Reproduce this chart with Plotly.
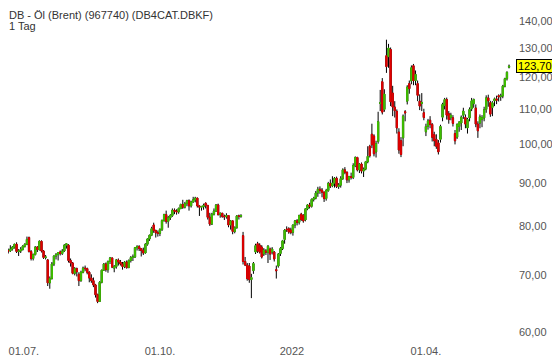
import math
import pandas as pd
import plotly.graph_objects as go

# ---- data (daily candles, 17.06.2021 - 31.05.2022, Frankfurt trading days) ----
holidays = ["2021-12-24", "2021-12-31", "2022-04-15", "2022-04-18"]

opens = [
    74.4, 73.1, 73.6, 74.9, 74.8, 75.2, 75.6, 76.2, 74.7, 74.8,  # Jun
    75.1, 75.8, 76.2, 77.6, 74.7, 73.3, 74.1, 75.6, 75.1, 76.8, 74.8, 73.5, 73.0, 68.6, 69.4, 72.2, 73.8, 74.1, 74.6, 74.3, 74.8, 76.0,  # Jul
    76.0, 72.9, 72.4, 70.4, 71.3, 70.2, 69.0, 70.6, 71.4, 71.3, 70.6, 69.5, 69.0, 68.2, 66.4, 65.2, 68.7, 71.0, 72.2, 71.1, 72.7, 73.4,  # Aug
    71.4, 71.7, 73.0, 72.6, 72.2, 71.7, 72.6, 71.5, 72.9, 73.5, 73.6, 75.5, 75.7, 75.3, 74.9, 74.4, 76.2, 77.3, 78.1, 80.3, 79.1, 78.6,  # Sep
    78.5, 79.3, 81.3, 82.6, 81.1, 81.9, 82.4, 83.6, 83.4, 83.2, 84.0, 84.9, 84.3, 85.1, 85.8, 84.6, 85.5, 86.0, 86.4, 84.6, 84.3,  # Oct
    84.4, 85.2, 84.7, 82.0, 80.5, 82.7, 83.4, 84.8, 82.6, 82.9, 82.2, 82.1, 82.4, 80.3, 81.2, 78.9, 79.7, 82.3, 82.2, 78.0, 72.7, 72.0,  # Nov
    71.8, 69.2, 70.9, 74.6, 76.3, 76.0, 75.6, 74.2, 74.8, 74.5, 75.2, 74.6, 74.6, 71.1, 71.8, 74.3, 75.3, 77.2, 79.4, 79.5, 79.2,  # Dec
    78.7, 80.3, 81.2, 80.9, 82.7, 82.4, 81.4, 83.9, 84.8, 84.5, 86.1, 86.4, 87.6, 88.5, 88.3, 87.8, 86.3, 88.2, 89.9, 89.3, 90.0,  # Jan
    91.2, 89.2, 89.5, 91.1, 93.3, 92.7, 90.8, 91.6, 91.4, 94.4, 96.5, 93.3, 94.8, 93.0, 93.5, 95.4, 99.5, 102.8, 102.3, 98.0,  # Feb
    100.8, 111.8, 118.6, 110.0, 127.3, 127.0, 129.5, 115.0, 110.7, 109.4, 103.4, 101.0, 101.8, 109.3, 112.5, 118.0, 118.9, 123.9, 119.0, 118.0, 112.5, 111.8, 109.0,  # Mar
    103.5, 105.0, 106.8, 105.6, 102.7, 101.4, 100.4, 101.4, 107.7, 111.2, 113.0, 108.7, 107.6, 107.5, 103.0, 102.0, 105.0, 106.0, 108.3,  # Apr
    107.6, 104.6, 107.5, 110.2, 111.8, 110.4, 105.7, 106.0, 107.0, 107.5, 110.0, 113.5, 112.0, 110.6, 112.6, 113.2, 114.2, 113.9, 114.1, 117.2, 119.6, 123.4,  # May
]
highs = [
    74.6, 73.9, 75.0, 75.3, 76.0, 75.8, 76.3, 76.6, 75.2, 75.6,
    76.0, 76.4, 77.8, 77.8, 75.0, 74.3, 75.8, 75.8, 77.0, 77.0, 75.0, 74.0, 73.2, 69.8, 72.6, 73.9, 74.4, 74.6, 74.9, 75.2, 76.2, 76.4,
    76.2, 73.3, 72.6, 71.6, 71.5, 70.6, 70.9, 71.7, 71.9, 71.5, 70.8, 70.2, 69.6, 68.4, 66.6, 68.9, 71.1, 72.4, 72.5, 72.9, 73.6, 73.5,
    72.0, 73.2, 73.3, 73.0, 72.6, 72.8, 72.9, 73.1, 73.8, 74.1, 75.6, 76.0, 76.0, 75.4, 75.5, 76.4, 77.4, 78.2, 79.9, 80.8, 79.3, 79.1,
    79.6, 81.5, 82.8, 83.5, 82.3, 82.7, 84.0, 84.0, 83.8, 84.2, 85.1, 86.0, 85.5, 86.0, 86.1, 85.8, 86.7, 86.7, 86.5, 84.8, 84.6,
    85.1, 85.4, 84.8, 83.0, 83.0, 84.0, 85.0, 85.1, 83.1, 83.0, 82.6, 82.9, 82.5, 81.4, 81.3, 80.0, 82.5, 82.6, 82.7, 78.8, 73.6, 72.4,
    72.4, 70.3, 72.6, 76.3, 76.7, 76.4, 76.0, 75.4, 75.2, 76.0, 75.5, 75.6, 74.8, 71.9, 74.4, 75.6, 77.1, 79.4, 80.0, 79.8, 79.7,
    80.4, 81.4, 81.6, 82.6, 83.0, 82.7, 84.0, 85.0, 85.3, 86.3, 86.7, 88.1, 89.1, 89.2, 88.8, 88.0, 88.6, 90.3, 90.9, 91.7, 91.5,
    91.6, 90.0, 91.7, 93.7, 94.0, 92.9, 91.8, 92.6, 95.0, 96.8, 96.7, 95.0, 95.2, 93.9, 95.6, 99.5, 99.9, 105.8, 102.8, 101.0,
    109.3, 116.0, 119.8, 116.2, 133.0, 131.5, 130.2, 117.3, 112.5, 110.0, 104.5, 102.0, 108.5, 109.8, 117.5, 119.0, 124.0, 124.5, 122.3, 119.0, 114.6, 115.0, 110.2,
    105.8, 107.2, 108.0, 106.0, 103.5, 102.8, 101.2, 105.5, 112.0, 113.5, 113.6, 109.5, 109.0, 108.3, 104.0, 105.9, 106.5, 108.2, 110.5,
    108.5, 107.5, 110.6, 113.5, 113.3, 111.5, 106.5, 108.5, 108.3, 110.8, 114.3, 114.5, 112.6, 112.5, 113.6, 114.2, 114.6, 114.8, 117.6, 119.9, 122.0, 124.3,
]
lows = [
    72.8, 72.4, 73.2, 74.3, 74.6, 74.9, 75.3, 74.4, 73.8, 74.4,
    74.9, 75.5, 76.0, 74.5, 72.9, 72.9, 73.9, 74.6, 74.9, 74.5, 73.2, 73.1, 68.0, 67.5, 69.2, 71.8, 73.1, 72.9, 73.9, 74.0, 74.6, 75.3,
    72.5, 71.7, 70.2, 70.0, 69.8, 68.0, 68.8, 70.4, 70.8, 70.2, 68.7, 68.6, 67.8, 65.9, 64.9, 65.1, 68.5, 70.9, 70.7, 70.5, 72.2, 71.4,
    70.6, 71.3, 71.9, 71.9, 71.1, 71.4, 71.3, 71.4, 72.5, 72.8, 73.4, 74.9, 74.8, 73.7, 74.0, 74.3, 75.9, 76.9, 77.9, 78.6, 77.6, 77.8,
    77.9, 79.0, 81.0, 80.6, 79.7, 81.4, 82.1, 82.7, 82.6, 82.8, 83.8, 83.9, 84.0, 84.5, 83.5, 84.2, 85.3, 85.4, 84.2, 82.3, 83.5,
    83.7, 84.0, 81.5, 80.1, 80.3, 82.4, 83.2, 82.4, 81.9, 81.9, 81.4, 81.7, 79.8, 79.3, 78.3, 78.5, 79.5, 81.5, 81.9, 72.1, 71.8, 69.0,
    68.6, 65.8, 70.3, 74.2, 74.4, 74.3, 73.3, 73.8, 74.0, 72.4, 73.0, 74.1, 72.7, 69.4, 71.5, 73.8, 75.0, 76.3, 78.8, 78.4, 78.3,
    78.0, 79.6, 80.2, 80.4, 81.2, 80.8, 81.1, 83.6, 84.0, 84.2, 85.6, 86.1, 86.7, 87.4, 86.6, 85.5, 85.8, 87.9, 88.8, 89.0, 88.9,
    88.8, 88.6, 88.9, 90.8, 92.2, 90.0, 90.1, 90.9, 91.0, 94.0, 92.9, 92.5, 92.4, 91.5, 93.2, 95.0, 96.5, 99.0, 96.8, 96.5,
    100.2, 109.5, 108.5, 109.3, 121.5, 123.2, 111.0, 108.0, 107.6, 103.0, 97.5, 96.6, 99.5, 106.5, 111.5, 114.8, 117.8, 117.5, 117.5, 112.5, 109.8, 109.5, 106.8,
    102.3, 104.1, 104.5, 100.8, 99.5, 98.8, 97.3, 100.5, 106.5, 110.0, 107.0, 105.8, 106.8, 105.0, 100.0, 101.5, 103.5, 104.0, 107.2,
    104.5, 103.0, 106.5, 109.5, 110.5, 104.8, 101.8, 104.5, 104.8, 106.5, 109.0, 110.8, 107.8, 108.0, 111.0, 111.6, 112.4, 112.6, 113.4, 116.8, 119.0, 123.0,
]
closes = [
    73.1, 73.5, 74.9, 74.8, 75.2, 75.6, 76.2, 74.7, 74.8, 75.1,
    75.8, 76.2, 77.2, 74.7, 73.3, 74.1, 75.6, 75.1, 76.8, 74.8, 73.5, 73.6, 68.6, 69.4, 72.2, 73.8, 74.1, 74.5, 74.3, 74.8, 76.0, 76.3,
    72.9, 72.4, 70.4, 71.3, 70.7, 69.0, 70.6, 71.4, 71.3, 70.6, 69.5, 69.0, 68.2, 66.4, 65.2, 68.7, 71.0, 72.2, 71.1, 72.7, 73.4, 71.6,
    71.7, 73.0, 72.6, 72.2, 71.7, 72.6, 71.5, 72.9, 73.5, 73.6, 75.5, 75.7, 75.3, 74.9, 74.4, 76.2, 77.3, 78.1, 79.5, 79.1, 78.6, 78.5,
    79.3, 81.3, 82.6, 81.1, 81.9, 82.4, 83.6, 83.4, 83.2, 84.0, 84.9, 84.3, 85.1, 85.8, 84.6, 85.5, 86.0, 86.4, 84.6, 84.3, 84.4,
    84.7, 84.7, 82.0, 80.5, 82.7, 83.4, 84.8, 82.6, 82.9, 82.2, 82.1, 82.4, 80.3, 81.2, 78.9, 79.7, 82.3, 82.2, 82.4, 72.7, 72.0, 69.4,
    69.2, 69.6, 72.3, 75.9, 74.8, 74.6, 73.6, 75.0, 74.6, 75.8, 74.2, 75.2, 73.2, 70.9, 74.2, 75.3, 76.9, 79.2, 79.3, 78.8, 78.7,
    80.3, 81.2, 80.9, 82.4, 81.5, 81.2, 83.9, 84.8, 84.5, 86.1, 86.4, 87.6, 88.5, 88.3, 87.8, 86.3, 88.2, 89.9, 89.3, 90.0, 91.2,
    89.2, 89.5, 91.1, 93.3, 92.7, 90.8, 91.6, 91.4, 94.4, 96.5, 93.3, 94.8, 93.0, 93.5, 95.4, 96.8, 97.0, 99.9, 97.5, 100.2,
    106.4, 112.0, 109.2, 114.7, 123.6, 130.0, 112.3, 110.7, 109.6, 104.6, 98.5, 97.3, 108.0, 109.0, 116.9, 116.4, 123.2, 119.0, 121.0, 114.3, 111.0, 112.1, 107.6,
    105.0, 106.6, 105.6, 102.0, 101.0, 99.5, 98.0, 105.0, 111.5, 113.0, 108.3, 107.0, 108.3, 105.9, 101.0, 105.6, 106.3, 107.7, 109.5,
    105.7, 107.0, 110.0, 112.6, 113.0, 105.7, 103.8, 107.8, 107.6, 109.9, 113.5, 112.6, 108.6, 112.0, 113.2, 112.8, 113.8, 114.1, 117.2, 119.6, 121.7, 123.7,
]

y_ticks = [60, 70, 80, 90, 100, 110, 120, 130, 140]
y_tick_labels = ["60,00", "70,00", "80,00", "90,00", "100,00", "110,00", "120,00", "130,00", "140,00"]
x_ticks = ["2021-07-02 00:00", "2021-10-01 12:00", "2022-01-03 00:00", "2022-04-01 12:00"]
x_tick_labels = ["01.07.", "01.10.", "2022", "01.04."]
last_price = closes[-1]
last_label = "\u200a123,70\u200a"
title = "DB - Öl (Brent) (967740) (DB4CAT.DBKF)"
subtitle = "1 Tag"

# ---- dates ----
days = pd.bdate_range("2021-06-17", "2022-05-31")
days = days[~days.isin(pd.to_datetime(holidays))]
x = days + pd.Timedelta(hours=12)
assert len(x) == len(opens) == len(highs) == len(lows) == len(closes)

GREEN = "#3fbf00"
RED = "#e00000"
FONT = "Arial, Liberation Sans, sans-serif"
GREY = "#555555"

fig = go.Figure()
# full candles: black wicks
fig.add_trace(go.Candlestick(
    x=x, open=opens, high=highs, low=lows, close=closes,
    increasing=dict(line=dict(color="black", width=1), fillcolor=GREEN),
    decreasing=dict(line=dict(color="black", width=1), fillcolor=RED),
    whiskerwidth=0, hoverinfo="skip", showlegend=False,
))
# bodies drawn again on top in pure colour (hides black outline)
body_hi = [max(o, c) for o, c in zip(opens, closes)]
body_lo = [min(o, c) for o, c in zip(opens, closes)]
fig.add_trace(go.Candlestick(
    x=x, open=opens, high=body_hi, low=body_lo, close=closes,
    increasing=dict(line=dict(color=GREEN, width=1), fillcolor=GREEN),
    decreasing=dict(line=dict(color=RED, width=1), fillcolor=RED),
    whiskerwidth=0, hoverinfo="skip", showlegend=False,
))

fig.update_layout(
    width=552, height=354,
    margin=dict(l=0, r=47, t=0, b=22, autoexpand=False),
    paper_bgcolor="white", plot_bgcolor="white",
    showlegend=False, boxgap=0.15,
    font=dict(family=FONT, size=11, color=GREY),
)
fig.update_xaxes(
    type="date", automargin=False,
    rangebreaks=[dict(bounds=["sat", "mon"]), dict(values=holidays)],
    range=["2021-06-22 09:17", "2022-06-02 09:40"],
    rangeslider_visible=False,
    showgrid=False, zeroline=False, showline=False, ticks="",
    tickmode="array", tickvals=x_ticks, ticktext=x_tick_labels,
    tickfont=dict(family=FONT, size=11, color=GREY),
    ticklabelstandoff=3, ticklabeloverflow="allow",
)
fig.update_yaxes(
    type="log", side="right", automargin=False,
    range=[math.log10(58.706), math.log10(144.99)],
    showgrid=False, zeroline=False, showline=False, ticks="",
    tickmode="array", tickvals=y_ticks, ticktext=y_tick_labels,
    tickfont=dict(family=FONT, size=11, color=GREY),
    ticklabelstandoff=5,
)

fig.add_annotation(xref="paper", yref="paper", x=0, y=1, xanchor="left", yanchor="top",
                   text=title, showarrow=False, borderpad=0,
                   font=dict(family=FONT, size=11, color="#333333"))
fig.add_annotation(xref="paper", yref="paper", x=0, y=1, xanchor="left", yanchor="top",
                   text=subtitle, showarrow=False, borderpad=0, yshift=-11,
                   font=dict(family=FONT, size=11, color="#333333"))
fig.add_annotation(xref="paper", yref="y", x=1, y=math.log10(last_price), xanchor="left", yanchor="middle",
                   text=last_label, showarrow=False, xshift=3,
                   bgcolor="#ffff00", bordercolor="black", borderwidth=1, borderpad=0,
                   font=dict(family=FONT, size=11, color="black"))

fig.write_html("out.html")
